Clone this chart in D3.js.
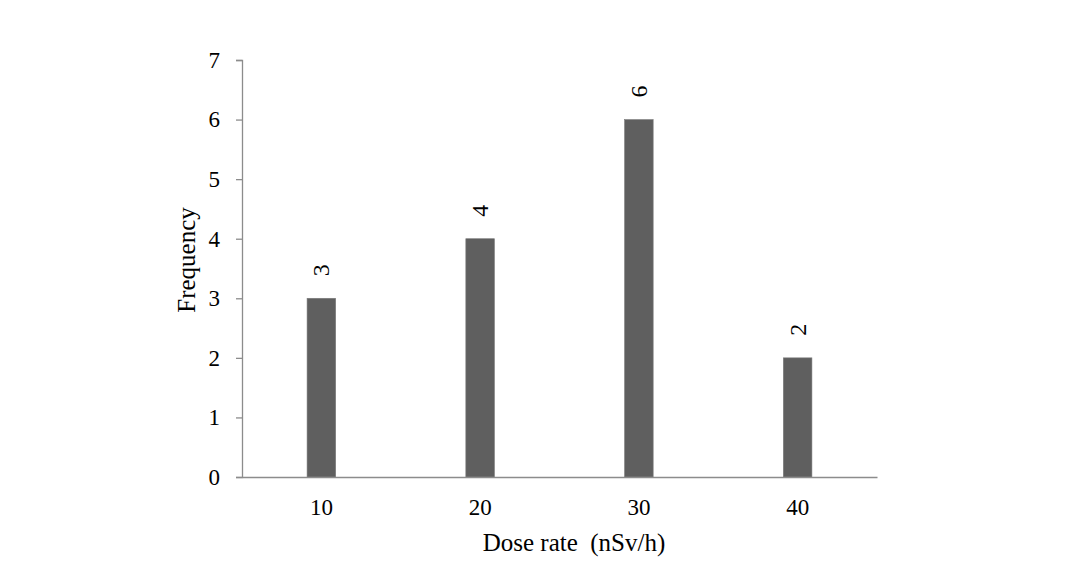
<!DOCTYPE html>
<html>
<head>
<meta charset="utf-8">
<script src="https://cdn.jsdelivr.net/npm/d3@7"></script>
<style>
  body { margin: 0; background: #fff; }
</style>
</head>
<body>
<div id="chart"></div>
<script>
// Data
const categories = ["10", "20", "30", "40"];
const frequencies = [3, 4, 6, 2];
const yTicks = [0, 1, 2, 3, 4, 5, 6, 7];

const serif = "'Liberation Serif', 'Times New Roman', serif";
const W = 1082, H = 576;
const margin = { top: 60, right: 205, bottom: 99, left: 242 };
const width = W - margin.left - margin.right;
const height = H - margin.top - margin.bottom;

const svg = d3.select("#chart")
    .append("svg")
    .attr("width", W)
    .attr("height", H)
    .style("font-family", serif);

const g = svg.append("g")
    .attr("transform", "translate(" + margin.left + "," + margin.top + ")");

const x = d3.scaleBand()
    .domain(categories)
    .range([0, width])
    .paddingInner(0.82)
    .paddingOuter(0.41);

const y = d3.scaleLinear()
    .domain([0, 7])
    .range([height, 0]);

// bars
g.selectAll(".bar")
    .data(frequencies)
    .enter().append("rect")
    .attr("class", "bar")
    .attr("x", (d, i) => x(categories[i]))
    .attr("y", d => y(d))
    .attr("width", x.bandwidth())
    .attr("height", d => height - y(d))
    .attr("fill", "#5f5f5f")
    .attr("stroke", "#7a7a7a")
    .attr("stroke-width", 0.6);

// value labels, rotated
g.selectAll(".lbl")
    .data(frequencies)
    .enter().append("text")
    .attr("class", "lbl")
    .attr("transform", (d, i) =>
        "translate(" + (x(categories[i]) + x.bandwidth() / 2) + "," + (y(d) - 28) + ") rotate(-90)")
    .attr("text-anchor", "middle")
    .attr("dominant-baseline", "central")
    .style("font-family", serif)
    .style("font-size", "24px")
    .attr("fill", "#000")
    .text(d => d);

// y axis
const yAxis = g.append("g")
    .call(d3.axisLeft(y).tickValues(yTicks).tickSize(6).tickPadding(16).tickFormat(d3.format("d")));
yAxis.selectAll("path, line").attr("stroke", "#8c8c8c").attr("stroke-width", 1.3);
yAxis.selectAll("text").style("font-size", "23px").style("font-family", serif).attr("fill", "#000");

// x axis
const xAxis = g.append("g")
    .attr("transform", "translate(0," + height + ")")
    .call(d3.axisBottom(x).tickSize(0).tickPadding(22));
xAxis.select(".domain").attr("stroke", "#8c8c8c").attr("stroke-width", 1.3);
xAxis.selectAll("text").style("font-size", "23px").style("font-family", serif).attr("fill", "#000");

// axis titles
svg.append("text")
    .attr("x", 574)
    .attr("y", 551)
    .attr("text-anchor", "middle")
    .style("font-family", serif)
    .style("font-size", "25px")
    .style("white-space", "pre")
    .text("Dose rate\u00a0 (nSv/h)");

svg.append("text")
    .attr("transform", "translate(195,260) rotate(-90)")
    .attr("text-anchor", "middle")
    .style("font-family", serif)
    .style("font-size", "25px")
    .text("Frequency");
</script>
</body>
</html>
